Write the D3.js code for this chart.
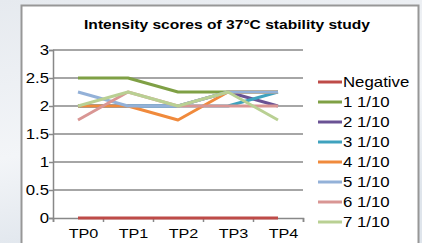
<!DOCTYPE html>
<html><head><meta charset="utf-8">
<script src="https://cdn.jsdelivr.net/npm/d3@7/dist/d3.min.js"></script>
<style>html,body{margin:0;padding:0;overflow:hidden;}svg{display:block;}</style>
</head><body>
<script>
const categories = ["TP0","TP1","TP2","TP3","TP4"];
const seriesNames = ["Negative","1 1/10","2 1/10","3 1/10","4 1/10","5 1/10","6 1/10","7 1/10"];
const seriesColors = ["#BE4B48","#7FA045","#6A5294","#3FA2BE","#F08A3C","#93B1D8","#D99694","#B9D093"];
const negative = [0,0,0,0,0];
const s1 = [2.5,2.5,2.25,2.25,2.25];
const s2 = [2,2,2,2.25,2];
const s3 = [2,2,2,2,2.25];
const s4 = [2,2,1.75,2.25,2.25];
const s5 = [2.25,2,2,2.25,2.25];
const s6 = [1.75,2.25,2,2,2];
const s7 = [2,2.25,2,2.25,1.75];
const seriesValues = [negative,s1,s2,s3,s4,s5,s6,s7];
const yTicks = [0,0.5,1,1.5,2,2.5,3];
const yTickLabels = ["0","0.5","1","1.5","2","2.5","3"];
const title = "Intensity scores of 37°C stability study";

const W=422,H=243,SX=1.2;
const svg=d3.select("body").append("svg").attr("width",W).attr("height",H);
const defs=svg.append("defs");
const g=defs.append("linearGradient").attr("id","bg").attr("x1",0).attr("y1",0).attr("x2",0.3).attr("y2",1);
g.append("stop").attr("offset","0").attr("stop-color","#e6eaef");
g.append("stop").attr("offset","0.6").attr("stop-color","#f3f5f8");
g.append("stop").attr("offset","1").attr("stop-color","#dfe5ec");
svg.append("rect").attr("width",W).attr("height",H).attr("fill","url(#bg)");
svg.append("rect").attr("x",21.5).attr("y",5.5).attr("width",397).attr("height",260)
  .attr("fill","#fff").attr("stroke","#979797").attr("stroke-width",2);

function stext(x,y,str,size,anchor,weight){
  return svg.append("text").attr("transform",`translate(${x},${y}) scale(${SX},1)`)
    .attr("text-anchor",anchor||"start").attr("font-family","Liberation Sans, Arial, sans-serif")
    .attr("font-size",size).attr("font-weight",weight||"normal").attr("fill","#000").text(str);
}

const plotL=53, plotR=303, plotT=50, plotB=218;
const x=d3.scalePoint().domain(categories).range([78,278]);
const y=d3.scaleLinear().domain([0,3]).range([plotB,plotT]);
const grid="#888";

svg.append("g").selectAll("line").data(yTicks.filter(v=>v>0)).join("line")
  .attr("x1",plotL).attr("x2",plotR).attr("y1",d=>y(d)).attr("y2",d=>y(d))
  .attr("stroke",grid).attr("stroke-width",1.5);
const yAxis=d3.axisLeft(y).tickValues(yTicks).tickSize(4).tickFormat("");
const ya=svg.append("g").attr("transform",`translate(${plotL},0)`).call(yAxis);
ya.selectAll("path,line").attr("stroke",grid).attr("stroke-width",1.5);
yTicks.forEach((v,i)=>stext(49,y(v)+5,yTickLabels[i],14,"end"));
const xb=d3.scaleLinear().domain([0,categories.length]).range([plotL,plotR]);
const xAxis=d3.axisBottom(xb).tickValues(d3.range(categories.length+1)).tickSize(4).tickFormat("");
const xa=svg.append("g").attr("transform",`translate(0,${plotB})`).call(xAxis);
xa.selectAll("path,line").attr("stroke",grid).attr("stroke-width",1.5);
categories.forEach(c=>stext(x(c)+5.5,238,c,13.5,"middle"));

const line=d3.line().x((d,i)=>x(categories[i])).y(d=>y(d));
seriesValues.forEach((vals,i)=>{
  svg.append("path").attr("d",line(vals)).attr("fill","none")
    .attr("stroke",seriesColors[i]).attr("stroke-width",3).attr("stroke-linejoin","round");
});

seriesNames.forEach((n,i)=>{
  const ly=82+i*20;
  svg.append("line").attr("x1",318).attr("x2",342).attr("y1",ly).attr("y2",ly)
    .attr("stroke",seriesColors[i]).attr("stroke-width",3);
  stext(343,ly+5,n,14,"start");
});

stext(227,29,title,13,"middle","bold");
</script>
</body></html>
